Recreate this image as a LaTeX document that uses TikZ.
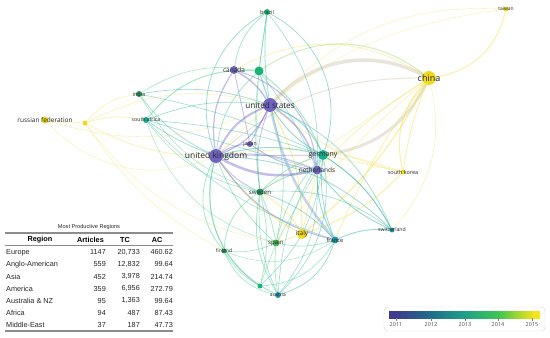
\documentclass[tikz,border=0pt]{standalone}
\usepackage{fontspec}
\setmainfont{Open Sans}
\newfontfamily\tabfont{Liberation Sans}
\usetikzlibrary{backgrounds}
% node colours
\definecolor{npur}{HTML}{6F63BF}
\definecolor{ngrn}{HTML}{17B574}
\definecolor{nteal}{HTML}{15AE8E}
\definecolor{ndkg}{HTML}{1E9A52}
\definecolor{nspa}{HTML}{42B64C}
\definecolor{ncya}{HTML}{1F93A4}
\definecolor{nyel}{HTML}{F0DA1C}
% link colours
\definecolor{cpur}{HTML}{7A6FCF}
\definecolor{cblu}{HTML}{7FA3D9}
\definecolor{cteal}{HTML}{28B4A0}
\definecolor{cgrn}{HTML}{3DCB86}
\definecolor{clim}{HTML}{9AD86A}
\definecolor{cyel}{HTML}{F2DE3A}
\definecolor{cbei}{HTML}{CFC7AE}
% year scale
\definecolor{y11}{HTML}{3E3A8C}
\definecolor{y12}{HTML}{1F6E8C}
\definecolor{y13}{HTML}{1FA088}
\definecolor{y14}{HTML}{3DC452}
\definecolor{y15}{HTML}{F3E51A}
\pgfdeclarehorizontalshading{viridis}{100bp}{color(0bp)=(y11); color(25bp)=(y11); color(27bp)=(y11); color(39bp)=(y12); color(50bp)=(y13); color(61bp)=(y14); color(73bp)=(y15); color(75bp)=(y15); color(100bp)=(y15)}

\begin{document}
\begin{tikzpicture}[x=1bp, y=-1bp,
  dot/.style={circle, inner sep=0pt, minimum size=#1},
  lab/.style={font=\fontsize{#1}{#1}\selectfont, text=black!85, inner sep=0pt},
  link/.style={draw opacity=0.45},
  cell/.style={font=\tabfont\fontsize{7.3}{8}\selectfont, inner sep=0pt, text=black!85},
  head/.style={font=\tabfont\bfseries\fontsize{7.3}{8}\selectfont, inner sep=0pt},
  rule/.style={draw=black!45, line width=#1},
  yrlab/.style={font=\fontsize{5.5}{6}\selectfont, text=black!70, inner sep=0pt}
]
\useasboundingbox (0,0) rectangle (550,337);

% countries
\foreach \n/\x/\y/\s/\c/\f/\t in {
  us/270/105/14/npur/8.2/united states,
  uk/216/156/14/npur/8.5/united kingdom,
  canada/234/70/8/npur/6.5/canada,
  japan/250/144/6/npur/5.2/japan,
  netherlands/317/170/9/npur/6.5/netherlands,
  germany/323/155/10/nteal/7/germany,
  anonA/259/71/9/ngrn/5/,
  brazil/267/12/6/ngrn/5.5/brazil,
  india/139/94/6/ndkg/5.5/india,
  safrica/146/120/6/nteal/5.2/south africa,
  sweden/260/192/7/ndkg/6.2/sweden,
  spain/276/243/7/nspa/6.2/spain,
  finland/224/251/5/ndkg/5/finland,
  anonB/260/286/5/ngrn/5/,
  austria/278/295/6/ncya/5/austria,
  france/335/240/7/ncya/5.8/france,
  swiss/392/230/5/ncya/5.2/switzerland,
  italy/302/234/10/nyel/6.5/italy,
  china/429/78/14/nyel/9/china,
  taiwan/506/9/5/nyel/5/taiwan,
  skorea/403/172/5/nyel/5.5/south korea,
  russia/45/120/7/nyel/6.5/russian federation,
  anonC/85/123/5/nyel/5/}
  \node[dot=\s, fill=\c, label={[lab=\f]center:\t}] (\n) at (\x,\y) {};

\begin{scope}[on background layer]
\fill[white] (0,0) rectangle (550,337);
% links: from/to/colour/bend/width
\foreach \a/\b/\c/\bd/\w in {
  us/china/cbei/-27/3.5, germany/china/cbei/20/3, anonA/china/clim/-26/1,
  canada/china/cyel/-22/0.6, uk/china/cbei/-15/1, netherlands/china/cyel/-5/0.7,
  china/taiwan/cyel/25/1, china/skorea/cyel/20/1, china/skorea/cyel/5/0.8,
  china/italy/cyel/-8/1.2, china/france/cyel/5/0.7, china/swiss/cyel/-20/0.5,
  china/sweden/cyel/0/0.5, china/spain/cyel/5/0.5, taiwan/us/cyel/18/0.4,
  taiwan/uk/cyel/14/0.35, italy/uk/cyel/-10/1, italy/us/cyel/10/1,
  italy/netherlands/cyel/0/0.8, italy/skorea/cyel/10/1, italy/sweden/cyel/10/0.8,
  italy/spain/cyel/0/0.7, skorea/us/cyel/-10/0.6, skorea/uk/cyel/10/0.6,
  skorea/germany/cyel/0/0.6, russia/anonC/cyel/0/0.7, anonC/uk/cyel/10/0.6,
  anonC/india/cyel/-15/0.5, anonC/safrica/cyel/-10/0.6, anonC/us/cyel/-15/0.5,
  anonC/spain/cyel/15/0.4, anonC/finland/cyel/10/0.4, russia/uk/cyel/25/0.4,
  russia/us/cyel/15/0.4,
  us/uk/cpur/15/2, us/uk/cpur/-15/1.2, canada/us/cpur/-10/1.5,
  uk/canada/cpur/-15/1.2, us/netherlands/cpur/-15/1.5, uk/netherlands/cpur/15/2.5,
  uk/netherlands/cpur/-10/1, us/japan/cpur/0/1, uk/japan/cpur/-10/1,
  japan/netherlands/cpur/10/1, canada/netherlands/cpur/-25/1, us/france/cblu/10/2.5,
  uk/france/cpur/15/1.2, uk/sweden/cblu/10/1.2, us/sweden/cpur/10/0.8,
  canada/japan/cpur/0/0.8, us/germany/cteal/-15/1, uk/germany/cpur/0/0.8,
  brazil/uk/cteal/30/0.8, brazil/germany/cteal/-30/0.8, brazil/canada/cgrn/15/0.8,
  brazil/us/cteal/5/0.8, brazil/anonA/cgrn/0/0.8, brazil/sweden/cgrn/5/0.6,
  brazil/netherlands/cteal/-15/0.6, anonA/us/cteal/0/1.2, anonA/uk/cgrn/15/0.8,
  anonA/germany/cgrn/-10/1, anonA/safrica/cgrn/20/1, anonA/india/cgrn/15/0.6,
  anonA/netherlands/cteal/-5/0.6, anonA/sweden/cgrn/5/0.6,
  india/us/cteal/-10/0.7, india/uk/cteal/10/0.7, india/germany/cteal/-5/0.6,
  india/sweden/cgrn/15/0.6, safrica/us/cteal/-10/0.7, safrica/uk/cteal/5/0.7,
  safrica/sweden/cgrn/15/0.6, safrica/germany/cteal/-5/0.6, safrica/netherlands/cteal/0/0.6,
  safrica/france/cteal/10/0.5, safrica/spain/cgrn/20/0.5,
  germany/us/cteal/-10/1, germany/uk/cteal/10/1, germany/sweden/cgrn/10/0.8,
  germany/france/cteal/10/0.8, germany/swiss/cteal/-10/0.8, germany/netherlands/cteal/0/1,
  germany/spain/cgrn/10/0.7, germany/austria/cteal/10/0.6,
  sweden/finland/cgrn/20/0.8, sweden/spain/cgrn/-5/0.8, sweden/austria/cgrn/15/0.8,
  sweden/anonB/cgrn/-10/0.7, sweden/france/cteal/-10/0.8, sweden/netherlands/cteal/-10/0.8,
  sweden/swiss/cteal/-15/0.6, finland/uk/cgrn/-25/0.8, finland/spain/cgrn/10/0.7,
  finland/anonB/cgrn/10/0.7, finland/austria/cgrn/20/0.7, finland/france/cgrn/20/0.5,
  spain/uk/cgrn/-10/0.8, spain/us/cgrn/10/0.7, spain/austria/cgrn/5/0.7,
  spain/france/cgrn/10/0.7, spain/netherlands/cgrn/0/0.6, spain/anonB/cgrn/0/0.6,
  austria/france/cteal/20/0.8, austria/uk/cteal/-30/0.8, austria/germany/cteal/20/0.7,
  austria/netherlands/cteal/15/0.6, austria/sweden/cteal/-10/0.6,
  anonB/france/cgrn/20/0.7, anonB/uk/cgrn/-25/0.7, anonB/germany/cteal/15/0.6,
  france/swiss/cteal/-10/1, france/netherlands/cteal/-10/1, swiss/netherlands/cteal/-10/1,
  swiss/uk/cteal/15/0.8, swiss/us/cteal/15/0.7, swiss/germany/cteal/10/0.7}
{
  \pgfmathsetmacro\bb{1.35*\bd}
  \draw[link, draw=\c, line width=\w] (\a) to[bend right=\bb] (\b);
}
\end{scope}

% table of regions
\node[cell, font=\tabfont\fontsize{5.6}{6}\selectfont] (title) at (89,227) {Most Productive Regions};
\draw[rule=1.2pt] (5,233) -- (173,233);
\node[head] (hreg) at (40,240) {Region};
\node[head, anchor=east] (hart) at (104,240) {Articles};
\node[head] (htc) at (125,240) {TC};
\node[head] (hac) at (157,240) {AC};
\draw[rule=0.9pt] (5,245.5) -- (173,245.5);
\foreach \r/\na/\tc/\ac [count=\i from 0] in {
  Europe/1147/{20,733}/460.62, Anglo-American/559/{12,832}/99.64,
  Asia/452/{3,978}/214.74, America/359/{6,956}/272.79,
  Australia \& NZ/95/{1,363}/99.64, Africa/94/487/87.43,
  Middle-East/37/187/47.73}
{
  \node[cell, anchor=west] (reg\i) at (6,252.3+12.1*\i) {\r};
  \node[cell, anchor=east] (art\i) at (106,252.3+12.1*\i) {\na};
  \node[cell, anchor=east] (tc\i) at (140,252.3+12.1*\i) {\tc};
  \node[cell, anchor=east] (ac\i) at (173,252.3+12.1*\i) {\ac};
}
\draw[rule=1.2pt] (5,331) -- (173,331);

% year scale
\draw[black!15, fill=white, rounded corners=4bp] (384,307) rectangle (545,331);
\shade[shading=viridis] (389,311) rectangle (540,318);
\foreach \yr/\x in {2011/396, 2012/431, 2013/465, 2014/498, 2015/532}
{
  \draw[black!50, line width=0.3pt] (\x,318) -- (\x,320.5);
  \node[yrlab] (yr\yr) at (\x,325) {\yr};
}
\end{tikzpicture}
\end{document}
